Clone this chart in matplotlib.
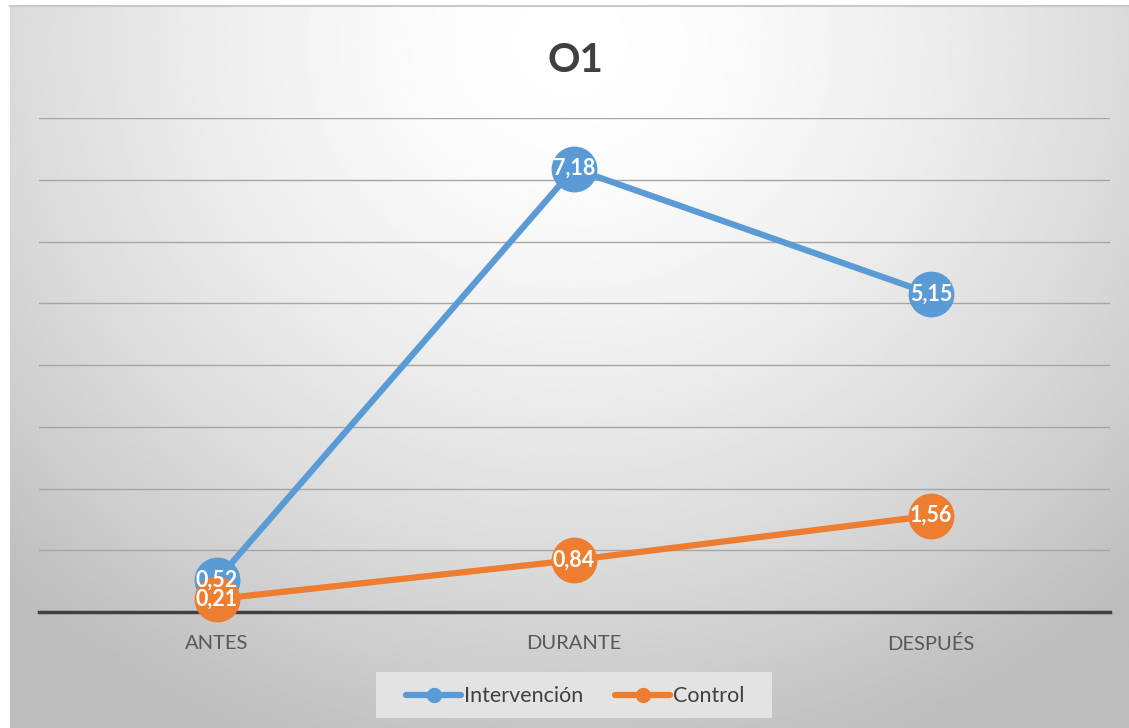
import numpy as np
import matplotlib
matplotlib.use('Agg')
import matplotlib.pyplot as plt

categories = ['ANTES', 'DURANTE', 'DESPUÉS']
intervencion = [0.52, 7.18, 5.15]
control = [0.21, 0.84, 1.56]
title = 'O1'

plt.rcParams['font.family'] = ['Lato', 'DejaVu Sans']

W, H = 1129, 728
fig = plt.figure(figsize=(W / 100, H / 100), dpi=100)
fig.patch.set_facecolor('white')

# fondo con degradado (el area del grafico)
bg = fig.add_axes([10 / W, 0, 1 - 10 / W, 1 - 7 / H], zorder=0)
yy, xx = np.mgrid[0:1:300j, 0:1:500j]
r = np.sqrt(((xx - 0.5) / 0.72) ** 2 + ((yy - 0.05) / 1.05) ** 2)
vals = 1.0 - 0.26 * np.clip(r, 0, 1) ** 1.6
bg.imshow(vals, cmap='gray', vmin=0, vmax=1, aspect='auto', extent=[0, 1, 1, 0])
bg.axis('off')
fig.add_artist(plt.Line2D([10 / W, 1], [1 - 6 / H, 1 - 6 / H], color='#c8c8c8', lw=1.5))

ax = fig.add_axes([38.5 / W, (H - 612) / H, (1109.5 - 38.5) / W, (612 - 118) / H], zorder=1)
ax.patch.set_alpha(0)
x = np.arange(len(categories))

ax.set_xlim(-0.5, 2.5)
ax.set_ylim(0, 8)
ax.set_yticks(range(1, 9))
ax.grid(axis='y', color='#a6a6a6', lw=1)
ax.tick_params(left=False, labelleft=False, bottom=False)
ax.set_xticks(x)
ax.set_xticklabels(categories, fontsize=14.5, color='#595959')
ax.tick_params(axis='x', pad=13)
for s in ['left', 'right', 'top']:
    ax.spines[s].set_visible(False)
ax.spines['bottom'].set_color('#404040')
ax.spines['bottom'].set_linewidth(2.5)
ax.spines['bottom'].set_zorder(1)

ax.plot(x, intervencion, '-o', color='#5B9BD5', lw=4.5, ms=32, label='Intervención', zorder=3, clip_on=False)
ax.plot(x, control, '-o', color='#ED7D31', lw=4.5, ms=32, label='Control', zorder=4, clip_on=False)

for xi, v in zip(x, intervencion):
    ax.text(xi, v, f'{v:.2f}'.replace('.', ','), color='white', fontsize=15.5, fontweight='bold',
            ha='center', va='center', zorder=5)
for xi, v in zip(x, control):
    ax.text(xi, v, f'{v:.2f}'.replace('.', ','), color='white', fontsize=15.5, fontweight='bold',
            ha='center', va='center', zorder=6)

fig.text(575 / W, 1 - 60 / H, title, fontsize=29, fontweight='bold', color='#404040',
         ha='center', va='center')

# leyenda
lax = fig.add_axes([376 / W, (H - 718) / H, (772 - 376) / W, 46 / H], zorder=2)
lax.set_facecolor('#e3e3e3')
lax.set_xticks([])
lax.set_yticks([])
for s in lax.spines.values():
    s.set_visible(False)
lax.set_xlim(0, 396)
lax.set_ylim(0, 46)
for x0, col, lab in [(30, '#5B9BD5', 'Intervención'), (239, '#ED7D31', 'Control')]:
    lax.plot([x0, x0 + 55], [23, 23], color=col, lw=4.5, solid_capstyle='round')
    lax.plot([x0 + 27.5], [23], 'o', color=col, ms=10)
    lax.text(x0 + 58, 22, lab, fontsize=15.5, color='#404040', ha='left', va='center')

fig.savefig('out.png', dpi=100)
